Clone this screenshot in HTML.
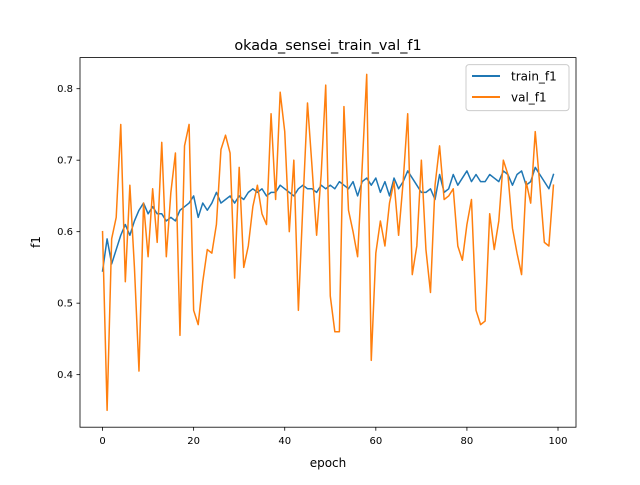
<!DOCTYPE html>
<html><head><meta charset="utf-8"><style>
body{margin:0;background:#fff}
svg text{font-family:"DejaVu Sans","Liberation Sans",sans-serif}
</style></head><body>
<svg id="chart" width="640" height="480">
<rect width="640" height="480" fill="#fff"/>
<text x="328" y="50" text-anchor="middle" font-size="14.4">okada_sensei_train_val_f1</text>
<g id="plot"></g>
<rect x="80" y="57.6" width="496" height="369.6" fill="none" stroke="#000" stroke-width="0.8"/>
<text x="328" y="467" text-anchor="middle" font-size="12">epoch</text>
<text transform="translate(40,242) rotate(-90)" text-anchor="middle" font-size="12">f1</text>
<g>
<rect x="466" y="64.6" width="103" height="46" rx="3" fill="#fff" fill-opacity="0.8" stroke="#ccc" stroke-width="1"/>
<g><line x1="472" y1="76" x2="500" y2="76" stroke="#1f77b4" stroke-width="2"/><text x="511" y="80.5" font-size="12">train_f1</text></g>
<g><line x1="472" y1="97" x2="500" y2="97" stroke="#ff7f0e" stroke-width="2"/><text x="511" y="101.5" font-size="12">val_f1</text></g>
</g>
</svg>
<script>
const trainF1=[0.545,0.59,0.555,0.575,0.595,0.61,0.595,0.615,0.63,0.64,0.625,0.635,0.625,0.625,0.615,0.62,0.615,0.63,0.635,0.64,0.65,0.62,0.64,0.63,0.64,0.655,0.64,0.645,0.65,0.64,0.65,0.645,0.655,0.66,0.655,0.66,0.65,0.655,0.655,0.665,0.66,0.655,0.65,0.66,0.665,0.66,0.66,0.655,0.665,0.66,0.665,0.66,0.67,0.665,0.66,0.67,0.65,0.67,0.675,0.665,0.675,0.655,0.67,0.65,0.675,0.66,0.67,0.685,0.675,0.665,0.655,0.655,0.66,0.645,0.68,0.655,0.66,0.68,0.665,0.675,0.685,0.67,0.68,0.67,0.67,0.68,0.675,0.67,0.685,0.68,0.665,0.68,0.685,0.665,0.67,0.69,0.68,0.67,0.66,0.68];
const valF1=[0.60,0.35,0.59,0.62,0.75,0.53,0.665,0.55,0.405,0.64,0.565,0.66,0.585,0.725,0.565,0.655,0.71,0.455,0.72,0.75,0.49,0.47,0.53,0.575,0.57,0.61,0.715,0.735,0.71,0.535,0.69,0.55,0.58,0.635,0.665,0.625,0.61,0.765,0.645,0.795,0.74,0.6,0.7,0.49,0.64,0.78,0.69,0.595,0.68,0.805,0.51,0.46,0.46,0.775,0.63,0.6,0.565,0.69,0.82,0.42,0.57,0.615,0.58,0.64,0.67,0.595,0.67,0.765,0.54,0.58,0.70,0.575,0.515,0.665,0.72,0.645,0.65,0.66,0.58,0.56,0.61,0.645,0.49,0.47,0.475,0.625,0.575,0.615,0.70,0.68,0.605,0.57,0.54,0.67,0.64,0.74,0.665,0.585,0.58,0.665];
const xTicks=[0,20,40,60,80,100];
const yTicks=[0.4,0.5,0.6,0.7,0.8];
const L=80,R=576,T=57.6,B=427.2;
const n=trainF1.length;
const xmin=-0.05*(n-1),xmax=(n-1)*1.05;
const all=trainF1.concat(valF1);
const dmin=Math.min(...all),dmax=Math.max(...all),pad=(dmax-dmin)*0.05;
const ymin=dmin-pad,ymax=dmax+pad;
const sx=v=>L+(v-xmin)/(xmax-xmin)*(R-L);
const sy=v=>B-(v-ymin)/(ymax-ymin)*(B-T);
const NS="http://www.w3.org/2000/svg";
const g=document.getElementById('plot');
function mk(t,a){const e=document.createElementNS(NS,t);for(const k in a)e.setAttribute(k,a[k]);g.appendChild(e);return e;}
xTicks.forEach(v=>{
const l=mk('line',{x1:sx(v),x2:sx(v),y1:B,y2:B+3.5,stroke:'#000','stroke-width':0.8});


const t=mk('text',{x:sx(v),y:B+17,'text-anchor':'middle','font-size':10});
t.textContent=v;


});
yTicks.forEach(v=>{
const l=mk('line',{x1:L-3.5,x2:L,y1:sy(v),y2:sy(v),stroke:'#000','stroke-width':0.8});


const t=mk('text',{x:L-7,y:sy(v)+3.5,'text-anchor':'end','font-size':10});
t.textContent=v.toFixed(1);


});
function line(arr,color,name){
const p=mk('polyline',{points:arr.map((v,i)=>sx(i)+','+sy(v)).join(' '),fill:'none',stroke:color,'stroke-width':1.5,'stroke-linejoin':'round','stroke-linecap':'square'});


}
line(trainF1,'#1f77b4','train-f1-line');
line(valF1,'#ff7f0e','val-f1-line');
</script>
</body></html>
